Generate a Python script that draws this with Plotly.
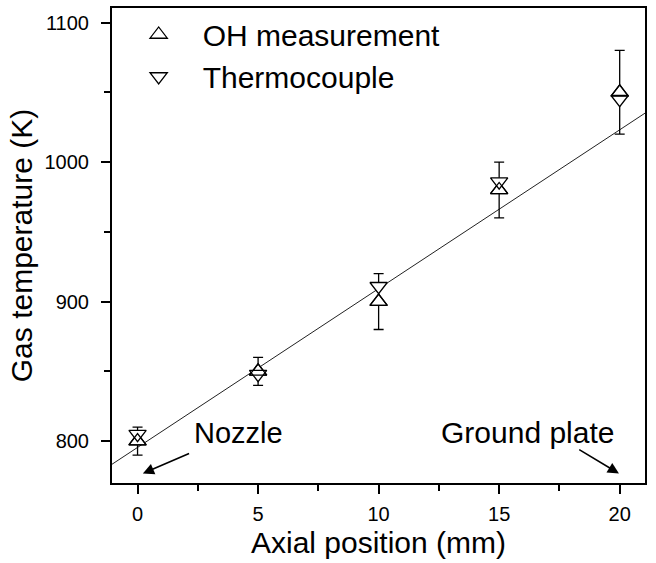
import plotly.graph_objects as go

# ---- data ----
axial_mm = [0, 5, 10, 15, 20]
oh_temp = [800, 850, 900, 980, 1050]
oh_err = [10, 10, 20, 20, 30]
tc_temp = [805, 848, 911, 986, 1045]

fit_intercept = 795.5
fit_slope = 11.38
fit_x = [-1.06, 21.05]
fit_y = [fit_intercept + fit_slope * x for x in fit_x]

x_ticks = [0, 5, 10, 15, 20]
y_ticks = [800, 900, 1000, 1100]

FONT = "Liberation Sans, Arial, Helvetica, sans-serif"

fig = go.Figure()

fig.add_trace(go.Scatter(
    x=fit_x, y=fit_y, mode="lines",
    line=dict(color="#222222", width=1),
    showlegend=False, hoverinfo="skip",
))

fig.add_trace(go.Scatter(
    x=axial_mm, y=oh_temp, mode="markers", name="OH measurement",
    marker=dict(symbol="triangle-up", size=15, color="white",
                line=dict(color="black", width=1.3)),
    error_y=dict(type="data", array=oh_err, visible=True,
                 color="black", thickness=1.3, width=5),
))

fig.add_trace(go.Scatter(
    x=axial_mm, y=tc_temp, mode="markers", name="Thermocouple",
    marker=dict(symbol="triangle-down", size=15, color="white",
                line=dict(color="black", width=1.3)),
))

fig.add_trace(go.Scatter(
    x=axial_mm, y=oh_temp, mode="markers", showlegend=False,
    marker=dict(symbol="triangle-up-open", size=15, color="black",
                line=dict(color="black", width=1.3)),
    hoverinfo="skip",
))

axis_common = dict(
    showline=True, linecolor="black", linewidth=2, mirror=True,
    ticks="outside", ticklen=9, tickwidth=1.5, tickcolor="black",
    showgrid=False, zeroline=False,
    tickfont=dict(family=FONT, size=20, color="black"),
)

fig.update_xaxes(
    range=[-1.06, 21.05], tickvals=x_ticks, ticklabelstandoff=3,
    minor=dict(ticks="outside", dtick=2.5, tick0=0, ticklen=6, tickwidth=1.5, tickcolor="black"),
    title=dict(text="Axial position (mm)", font=dict(family=FONT, size=30, color="black"), standoff=8),
    **axis_common,
)
fig.update_yaxes(
    range=[770, 1110.4], tickvals=y_ticks, ticklabelstandoff=8,
    minor=dict(ticks="outside", dtick=50, tick0=800, ticklen=6, tickwidth=1.5, tickcolor="black"),
    title=dict(text="Gas temperature (K)", font=dict(family=FONT, size=30, color="black"), standoff=3),
    **axis_common,
)

fig.add_annotation(x=4.2, y=806, text="Nozzle", showarrow=False,
                   xanchor="center", yanchor="middle",
                   font=dict(family=FONT, size=29, color="black"))
fig.add_annotation(x=16.18, y=806, text="Ground plate", showarrow=False,
                   xanchor="center", yanchor="middle",
                   font=dict(family=FONT, size=30, color="black"))

fig.add_annotation(x=0.22, y=776.8, ax=2.2, ay=791.6, axref="x", ayref="y",
                   text="", showarrow=True, arrowhead=2, arrowsize=1.4,
                   arrowwidth=1.6, arrowcolor="black", standoff=0, startstandoff=0)
fig.add_annotation(x=19.97, y=776.8, ax=18.26, ay=794.6, axref="x", ayref="y",
                   text="", showarrow=True, arrowhead=2, arrowsize=1.4,
                   arrowwidth=1.6, arrowcolor="black", standoff=0, startstandoff=0)

fig.update_layout(
    width=656, height=563,
    margin=dict(l=112, r=11, t=6, b=80, pad=0),
    paper_bgcolor="white", plot_bgcolor="white",
    font=dict(family=FONT, color="black"),
    legend=dict(x=0.005, y=0.999, xanchor="left", yanchor="top",
                bgcolor="rgba(0,0,0,0)", borderwidth=0,
                font=dict(family=FONT, size=30, color="black"),
                itemwidth=78, tracegroupgap=0),
)

fig.write_html("out.html")
